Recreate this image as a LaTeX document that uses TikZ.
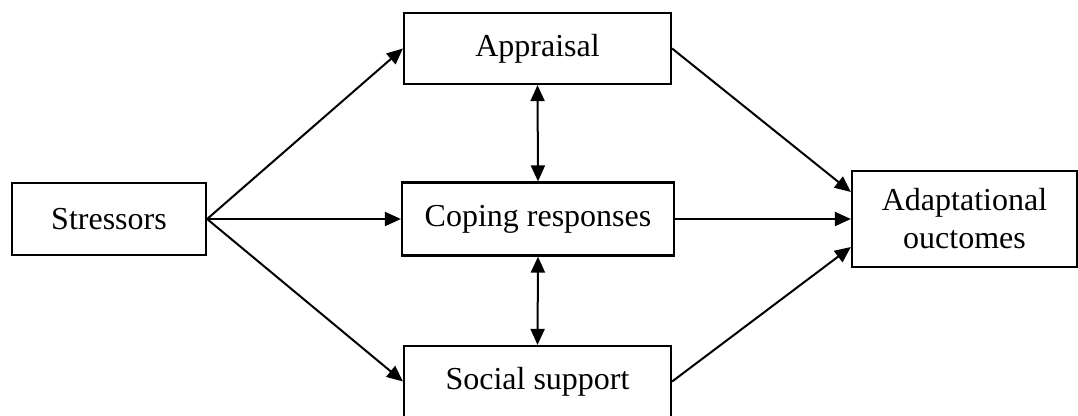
\documentclass[tikz,border=0pt]{standalone}
\usepackage{fontspec}
\setmainfont{Liberation Serif}
\usetikzlibrary{arrows.meta}
\begin{document}
\begin{tikzpicture}[x=1pt,y=-1pt,
  box/.style={draw, line width=2.2pt, rectangle, inner sep=0pt, align=center,
    font=\fontsize{32}{38}\selectfont},
  conn/.style={line width=2pt, -{Triangle[length=16pt,width=14pt]}},
  biconn/.style={line width=2pt, {Triangle[length=16pt,width=14pt]}-{Triangle[length=16pt,width=14pt]}}]
\useasboundingbox (0,0) rectangle (1078,415);
\node[box, minimum width=194pt, minimum height=72pt] (S) at (109,219) {Stressors};
\node[box, minimum width=267pt, minimum height=71pt] (A) at (537.5,48.5) {Appraisal};
\node[box, minimum width=272pt, minimum height=73pt] (C) at (538,219) {Coping responses};
\node[box, minimum width=267pt, minimum height=71pt] (So) at (537.5,381.5) {Social support};
\node[box, minimum width=225pt, minimum height=96pt] (O) at (964.5,219) {Adaptational\\ouctomes};
\draw[conn] (S.east) -- (A.west);
\draw[conn] (S.east) -- (C.west);
\draw[conn] (S.east) -- (So.west);
\draw[conn] (A.east) -- ([yshift=27pt]O.west);
\draw[conn] (C.east) -- (O.west);
\draw[conn] (So.east) -- ([yshift=-28pt]O.west);
\draw[biconn] (A.south) -- (C.north);
\draw[biconn] (C.south) -- (So.north);
\end{tikzpicture}
\end{document}
